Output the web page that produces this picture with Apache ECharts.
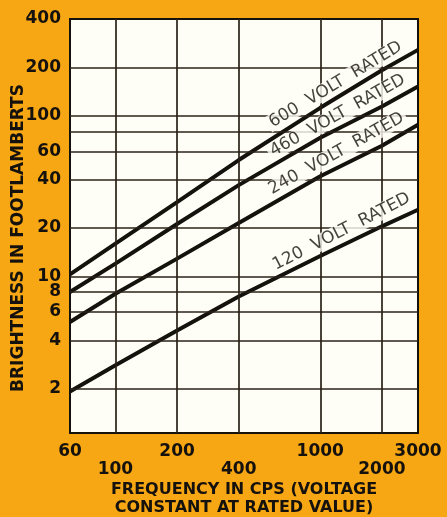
<!DOCTYPE html>
<html>
<head>
<meta charset="utf-8">
<script src="https://cdn.jsdelivr.net/npm/echarts@6/dist/echarts.min.js"></script>
<style>
  html, body { margin: 0; padding: 0; background: #F7A614; }
  #chart { width: 447px; height: 517px; }
</style>
</head>
<body>
<div id="chart"></div>
<script>
const FREQS = [60, 100, 200, 400, 1000, 2000, 3000]

const V600 = [10.3, 16, 29, 53, 112, 192, 257]
const V460 = [8.0, 12.0, 21.2, 37, 73, 114, 152]
const V240 = [5.2, 7.8, 12.9, 21.5, 42, 65, 88]
const V120 = [1.92, 2.8, 4.6, 7.5, 13.4, 20.5, 26]

const SERIES_NAMES = ['600  VOLT  RATED', '460  VOLT  RATED', '240  VOLT  RATED', '120  VOLT  RATED']

// bottom labels come in two staggered rows
const X_TICKS_TOP = [60, 200, 1000, 3000]
const X_TICKS_LOW = [100, 400, 2000]
const Y_TICKS = [2, 4, 6, 8, 10, 20, 40, 60, 100, 200, 400]
const X_GRID = [100, 200, 400, 1000, 2000]
const Y_GRID = [2, 4, 6, 8, 10, 20, 40, 60, 80, 100, 200]

const INK = '#15120e'
const PAPER = '#fffef6'
const FONT = 'DejaVu Sans'

const chart = echarts.init(document.getElementById('chart'))

const toPairs = vals => FREQS.map((f, i) => [f, vals[i]])

const lineSeries = (vals) => ({
  type: 'line',
  data: toPairs(vals),
  symbol: 'none',
  z: 3,
  lineStyle: { color: INK, width: 4 },
  silent: true
})

// label anchors sit on each curve at 1000 cps, then get pushed along/above the line
const labelSpecs = [
  { vals: V600, rotate: 31, offset: [25, -12] },
  { vals: V460, rotate: 29, offset: [26, -11] },
  { vals: V240, rotate: 29, offset: [25, -12] },
  { vals: V120, rotate: 27, offset: [30, -12] }
]

const labelSeries = {
  type: 'scatter',
  symbolSize: 0,
  z: 5,
  silent: true,
  data: labelSpecs.map((s, i) => ({
    value: [FREQS[4], s.vals[4]],
    label: {
      show: true,
      position: 'inside',
      formatter: SERIES_NAMES[i],
      rotate: s.rotate,
      offset: s.offset,
      color: INK,
      fontFamily: FONT,
      fontSize: 17,
      backgroundColor: PAPER,
      padding: [0, 3]
    }
  }))
}

const gridSeries = {
  type: 'line',
  data: [],
  z: 1,
  silent: true,
  markLine: {
    symbol: 'none',
    silent: true,
    label: { show: false },
    lineStyle: { color: '#2a2218', width: 1.7, type: 'solid' },
    data: [
      ...X_GRID.map(v => ({ xAxis: v })),
      ...Y_GRID.map(v => ({ yAxis: v }))
    ]
  }
}

const tickFont = {
  color: INK,
  fontFamily: FONT,
  fontWeight: 'bold',
  fontSize: 17
}

const freqAxis = (ticks, margin, extra) => ({
  type: 'log',
  min: 60,
  max: 3000,
  position: 'bottom',
  axisLine: { show: false },
  axisTick: { show: false },
  splitLine: { show: false },
  axisLabel: {
    ...tickFont,
    customValues: ticks,
    showMinLabel: true,
    showMaxLabel: true,
    hideOverlap: false,
    margin: margin,
    lineHeight: 18,
    formatter: v => '' + Math.round(v)
  },
  ...extra
})

chart.setOption({
  backgroundColor: '#F7A614',
  animation: false,
  grid: {
    left: 70, right: 29, top: 19, bottom: 84,
    outerBoundsMode: 'none',
    show: true,
    backgroundColor: PAPER,
    borderColor: INK,
    borderWidth: 2
  },
  xAxis: [
    freqAxis(X_TICKS_TOP, 10, {
      name: 'FREQUENCY IN CPS (VOLTAGE\nCONSTANT AT RATED VALUE)',
      nameLocation: 'middle',
      nameGap: 48,
      nameMoveOverlap: false,
      nameTextStyle: {
        color: INK, fontFamily: FONT, fontWeight: 'bold', fontSize: 16, lineHeight: 18
      }
    }),
    freqAxis(X_TICKS_LOW, 28, {})
  ],
  yAxis: {
    type: 'log',
    min: 1.06,
    max: 400,
    name: 'BRIGHTNESS IN FOOTLAMBERTS',
    nameLocation: 'middle',
    nameGap: 43,
    nameMoveOverlap: false,
    nameTextStyle: {
      color: INK, fontFamily: FONT, fontWeight: 'bold', fontSize: 17,
      padding: [0, 24, 0, 0]
    },
    axisLine: { show: false },
    axisTick: { show: false },
    splitLine: { show: false },
    axisLabel: {
      ...tickFont,
      customValues: Y_TICKS,
      showMinLabel: true,
      showMaxLabel: true,
      hideOverlap: false,
      margin: 9,
      formatter: v => '' + Math.round(v)
    }
  },
  series: [
    gridSeries,
    lineSeries(V600),
    lineSeries(V460),
    lineSeries(V240),
    lineSeries(V120),
    labelSeries
  ]
})
</script>
</body>
</html>
